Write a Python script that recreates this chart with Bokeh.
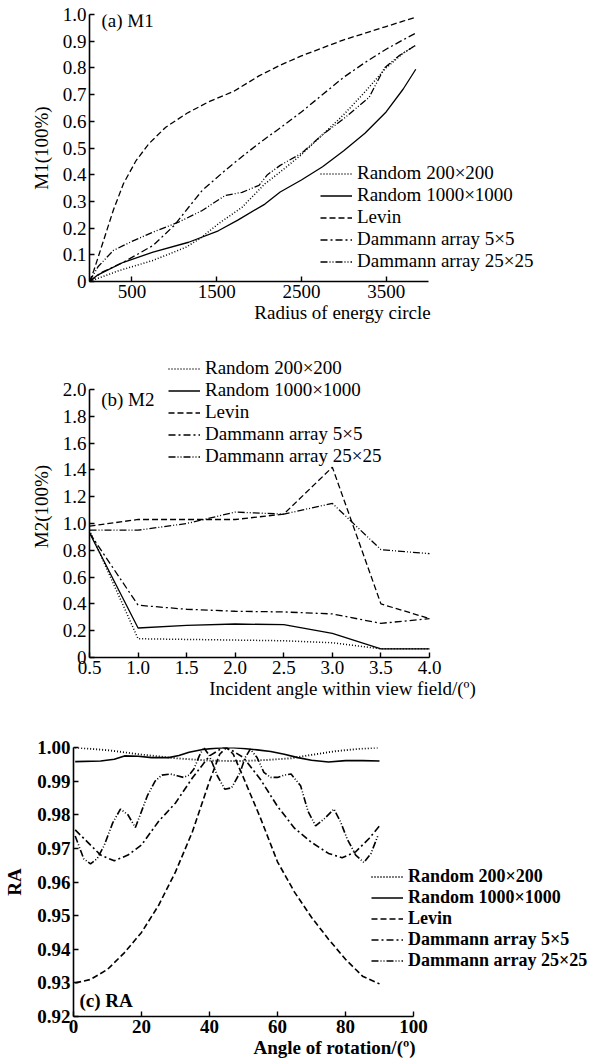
from bokeh.plotting import figure
from bokeh.models import Legend, LegendItem, FixedTicker, Label, Range1d, CustomJSTickFormatter
from bokeh.embed import file_html
from bokeh.resources import INLINE

# ---------------- data ----------------
SERIES = ["Random 200×200", "Random 1000×1000", "Levin",
          "Dammann array 5×5", "Dammann array 25×25"]

# (a) M1 vs radius of energy circle
a_rand200_x = [0, 350, 750, 1135, 1300, 1520, 1800, 2070, 2250, 2500, 2750, 3000, 3250, 3500, 3700, 3850]
a_rand200_y = [0, 0.041, 0.079, 0.128, 0.16, 0.216, 0.278, 0.366, 0.41, 0.475, 0.55, 0.625, 0.71, 0.80, 0.855, 0.885]
a_rand1000_x = [0, 100, 200, 400, 750, 1170, 1520, 1750, 2070, 2250, 2500, 2750, 3000, 3250, 3500, 3700, 3850]
a_rand1000_y = [0, 0.025, 0.041, 0.072, 0.11, 0.147, 0.19, 0.23, 0.29, 0.335, 0.38, 0.43, 0.49, 0.555, 0.635, 0.72, 0.795]
a_levin_x = [0, 50, 140, 280, 400, 550, 700, 900, 1150, 1400, 1700, 2000, 2250, 2500, 2750, 3000, 3250, 3500, 3700, 3850]
a_levin_y = [0, 0.04, 0.128, 0.266, 0.366, 0.453, 0.516, 0.578, 0.63, 0.672, 0.712, 0.77, 0.81, 0.845, 0.875, 0.905, 0.93, 0.955, 0.975, 0.99]
a_d5_x = [0, 150, 400, 750, 1000, 1170, 1330, 1600, 1840, 2070, 2250, 2500, 2750, 3000, 3250, 3500, 3700, 3850]
a_d5_y = [0, 0.035, 0.072, 0.135, 0.21, 0.278, 0.341, 0.416, 0.478, 0.534, 0.575, 0.635, 0.70, 0.765, 0.82, 0.87, 0.905, 0.93]
a_d25_x = [0, 100, 280, 500, 750, 1050, 1330, 1600, 1800, 2000, 2100, 2250, 2500, 2750, 3000, 3300, 3480, 3650, 3850]
a_d25_y = [0, 0.055, 0.116, 0.15, 0.185, 0.222, 0.266, 0.322, 0.334, 0.36, 0.40, 0.435, 0.48, 0.55, 0.61, 0.69, 0.80, 0.845, 0.885]
a_xticks = [500, 1500, 2500, 3500]
a_yticks = [0, 0.1, 0.2, 0.3, 0.4, 0.5, 0.6, 0.7, 0.8, 0.9, 1.0]

# (b) M2 vs incident angle
b_x = [0.5, 1.0, 1.5, 2.0, 2.5, 3.0, 3.5, 4.0]
b_rand200 = [0.95, 0.14, 0.135, 0.13, 0.125, 0.11, 0.065, 0.065]
b_rand1000 = [0.93, 0.22, 0.24, 0.25, 0.245, 0.18, 0.065, 0.065]
b_levin = [0.98, 1.03, 1.03, 1.03, 1.07, 1.42, 0.40, 0.29]
b_d5 = [0.93, 0.39, 0.36, 0.345, 0.34, 0.325, 0.255, 0.29]
b_d25 = [0.95, 0.95, 1.0, 1.085, 1.07, 1.15, 0.805, 0.775]
b_xticks = [0.5, 1.0, 1.5, 2.0, 2.5, 3.0, 3.5, 4.0]
b_yticks = [0, 0.2, 0.4, 0.6, 0.8, 1.0, 1.2, 1.4, 1.6, 1.8, 2.0]

# (c) RA vs angle of rotation
c_rand200_x = [0.5, 10, 20, 30, 40, 45, 50, 57, 64, 70, 77, 84, 90]
c_rand200_y = [1.0, 0.9992, 0.9979, 0.9968, 0.9961, 0.996, 0.996, 0.9963, 0.9968, 0.9978, 0.9989, 0.9996, 1.0]
c_rand1000_x = [0.5, 8, 12, 15, 19, 23, 28, 31, 34, 38, 42, 46, 50, 54, 58, 62, 66, 70, 75, 80, 85, 90]
c_rand1000_y = [0.9958, 0.9960, 0.9965, 0.9975, 0.9974, 0.9970, 0.9970, 0.9976, 0.9986, 0.9994, 0.9998, 1.0,
                0.9997, 0.9993, 0.9988, 0.998, 0.997, 0.9962, 0.9957, 0.9961, 0.9961, 0.996]
c_levin_x = [0.5, 5, 10, 15, 20, 25, 30, 35, 40, 43, 45, 47, 50, 55, 60, 65, 70, 75, 80, 85, 90]
c_levin_y = [0.930, 0.931, 0.934, 0.939, 0.945, 0.953, 0.963, 0.975, 0.990, 0.998, 1.000, 0.998, 0.991,
             0.979, 0.966, 0.957, 0.9495, 0.943, 0.937, 0.932, 0.9297]
c_d5_x = [0.5, 4, 8, 12, 16, 20, 25, 30, 35, 40, 44, 46, 50, 55, 60, 65, 70, 75, 79, 83, 87, 90]
c_d5_y = [0.9755, 0.972, 0.968, 0.9663, 0.968, 0.971, 0.978, 0.9835, 0.991, 0.9975, 1.0, 0.9995, 0.997,
          0.9905, 0.9825, 0.976, 0.9718, 0.9685, 0.9672, 0.969, 0.973, 0.9767]
c_d25_x = [0.5, 3, 5, 7, 9, 11.5, 13.8, 16, 18.2, 20, 21.7, 24, 26, 28.5, 30.5, 32.4, 34, 35.4, 37, 38.3, 40,
           42.3, 44.5, 46.5, 49, 50.5, 52, 54, 56, 58, 60, 62, 64, 66.8, 69, 71.2, 74, 76.6, 78.5, 80.5, 83,
           85.4, 87.5, 89.5]
c_d25_y = [0.9737, 0.9669, 0.9654, 0.9670, 0.9708, 0.9775, 0.9817, 0.9800, 0.9762, 0.9810, 0.9856, 0.9900,
           0.9918, 0.9921, 0.9916, 0.9911, 0.9918, 0.9936, 0.9975, 1.0, 0.9975, 0.9916, 0.9876, 0.9880, 0.9926,
           0.9970, 0.9995, 0.9970, 0.9926, 0.9911, 0.9911, 0.9918, 0.9921, 0.9886, 0.981, 0.9767, 0.9790,
           0.9817, 0.9780, 0.9728, 0.9680, 0.9658, 0.9685, 0.9737]
c_xticks = [0, 20, 40, 60, 80, 100]
c_yticks = [0.92, 0.93, 0.94, 0.95, 0.96, 0.97, 0.98, 0.99, 1.00]

# ---------------- styling ----------------
FONT = "Liberation Serif"
W = 595
DASHES = ["1 2", "solid", "6 3", "7 3 2 3", "7 2 1 2 1 2"]
WIDTHS = [1.5, 1.3, 1.3, 1.3, 1.3]


def style(p, bold, fs, ylab_standoff, xb, yb):
    p.outline_line_color = None
    p.xgrid.visible = False
    p.ygrid.visible = False
    p.background_fill_color = "white"
    p.border_fill_color = "white"
    for ax in (p.xaxis[0], p.yaxis[0]):
        ax.axis_line_width = 1.6
        ax.axis_line_color = "black"
        ax.major_tick_line_width = 1.4
        ax.major_tick_line_color = "black"
        ax.major_tick_in = 5
        ax.major_tick_out = 0
        ax.minor_tick_in = 0
        ax.minor_tick_out = 0
        ax.major_label_text_font = FONT
        ax.major_label_text_font_size = fs
        ax.major_label_text_color = "black"
        ax.major_label_text_font_style = "bold" if bold else "normal"
        ax.axis_label_text_font = FONT
        ax.axis_label_text_font_size = fs
        ax.axis_label_text_color = "black"
        ax.axis_label_text_font_style = "bold" if bold else "normal"
        ax.major_label_standoff = 3
    p.xaxis[0].axis_label_standoff = 1
    p.yaxis[0].axis_label_standoff = ylab_standoff
    p.xaxis[0].bounds = xb
    p.yaxis[0].bounds = yb


def add_lines(p, xs_list, ys_list, scale):
    rs = []
    for xs, ys, dash, lw in zip(xs_list, ys_list, DASHES, WIDTHS):
        rs.append(p.line(xs, ys, line_color="black", line_width=lw * scale, line_dash=dash))
    return rs


def add_legend(p, rs, loc, bold, fs):
    items = [LegendItem(label=s, renderers=[r]) for s, r in zip(SERIES, rs)]
    lg = Legend(items=items, location=loc, orientation="vertical",
                border_line_color=None, background_fill_alpha=0,
                padding=0, margin=0, spacing=0,
                glyph_width=32, glyph_height=21, label_height=21, label_standoff=5,
                label_text_font=FONT, label_text_font_size=fs,
                label_text_font_style="bold" if bold else "normal",
                label_text_color="black")
    p.add_layout(lg)


# ---------------- (a) ----------------
# frame: left 89, extends to the right edge (axis drawn 0..4000 = 89..428); 1.0 at 14, 0 at 281
a_xmax = 4000 * (W - 89) / (428 - 89)
pa = figure(width=W, height=328, x_range=Range1d(0, a_xmax), y_range=Range1d(0, 1.0),
            output_backend="svg", toolbar_location=None,
            min_border_left=89, min_border_right=0, min_border_top=14, min_border_bottom=47,
            x_axis_label="Radius of energy circle", y_axis_label="M1(100%)")
style(pa, False, "19px", 8, (0, 4000), (0, 1.0))
pa.xaxis[0].ticker = FixedTicker(ticks=a_xticks)
pa.yaxis[0].ticker = FixedTicker(ticks=a_yticks)
pa.yaxis[0].formatter = CustomJSTickFormatter(code="return tick == 0 ? '0' : tick.toFixed(1);")
ra = add_lines(pa, [a_rand200_x, a_rand1000_x, a_levin_x, a_d5_x, a_d25_x],
               [a_rand200_y, a_rand1000_y, a_levin_y, a_d5_y, a_d25_y], 1.0)
add_legend(pa, ra, (320 - 89, 9), False, "19px")
pa.add_layout(Label(x=142, y=0.9775, text="(a) M1", text_font=FONT, text_font_size="19px",
                    text_baseline="middle", text_color="black"))

# ---------------- (b) ----------------
# figure starts at y=328; frame top 355 (so the legend fits), 2.0 at 389, 0 at 657
b_xmax = 0.5 + 3.5 * (W - 89) / (429 - 89)
b_ymax = 2.0 * (657 - 355) / (657 - 389)
pb = figure(width=W, height=375, x_range=Range1d(0.5, b_xmax), y_range=Range1d(0, b_ymax),
            output_backend="svg", toolbar_location=None,
            min_border_left=89, min_border_right=0, min_border_top=27, min_border_bottom=46,
            x_axis_label="Incident angle within view field/(º)", y_axis_label="M2(100%)")
style(pb, False, "19px", 8, (0.5, 4.0), (0, 2.0))
pb.xaxis[0].ticker = FixedTicker(ticks=b_xticks)
pb.xaxis[0].formatter = CustomJSTickFormatter(code="return tick.toFixed(1);")
pb.yaxis[0].ticker = FixedTicker(ticks=b_yticks)
pb.yaxis[0].formatter = CustomJSTickFormatter(code="return tick == 0 ? '0' : tick.toFixed(1);")
rb = add_lines(pb, [b_x] * 5, [b_rand200, b_rand1000, b_levin, b_d5, b_d25], 1.0)
add_legend(pb, rb, (168 - 89, 190), False, "19px")
pb.add_layout(Label(x=0.62, y=1.925, text="(b) M2", text_font=FONT, text_font_size="19px",
                    text_baseline="middle", text_color="black"))

# ---------------- (c) ----------------
# figure starts at y=703; frame top 747, bottom 1016, left 73, axis 0..100 = 73..413
c_xmax = 100 * (W - 73) / (413 - 73)
pc = figure(width=W, height=360, x_range=Range1d(0, c_xmax), y_range=Range1d(0.92, 1.0),
            output_backend="svg", toolbar_location=None,
            min_border_left=73, min_border_right=0, min_border_top=44, min_border_bottom=47,
            x_axis_label="Angle of rotation/(º)", y_axis_label="RA")
style(pc, True, "19px", 9, (0, 100), (0.92, 1.0))
pc.xaxis[0].ticker = FixedTicker(ticks=c_xticks)
pc.yaxis[0].ticker = FixedTicker(ticks=c_yticks)
pc.yaxis[0].formatter = CustomJSTickFormatter(code="return tick.toFixed(2);")
rc = add_lines(pc, [c_rand200_x, c_rand1000_x, c_levin_x, c_d5_x, c_d25_x],
               [c_rand200_y, c_rand1000_y, c_levin_y, c_d5_y, c_d25_y], 1.25)
add_legend(pc, rc, (371 - 73, 45), True, "18px")
pc.add_layout(Label(x=1.76, y=0.9248, text="(c) RA", text_font=FONT, text_font_size="19px",
                    text_font_style="bold", text_baseline="middle", text_color="black"))

# three separate roots stacked vertically (avoids cross-panel frame alignment)
open("out.html", "w").write(file_html([pa, pb, pc], INLINE))
